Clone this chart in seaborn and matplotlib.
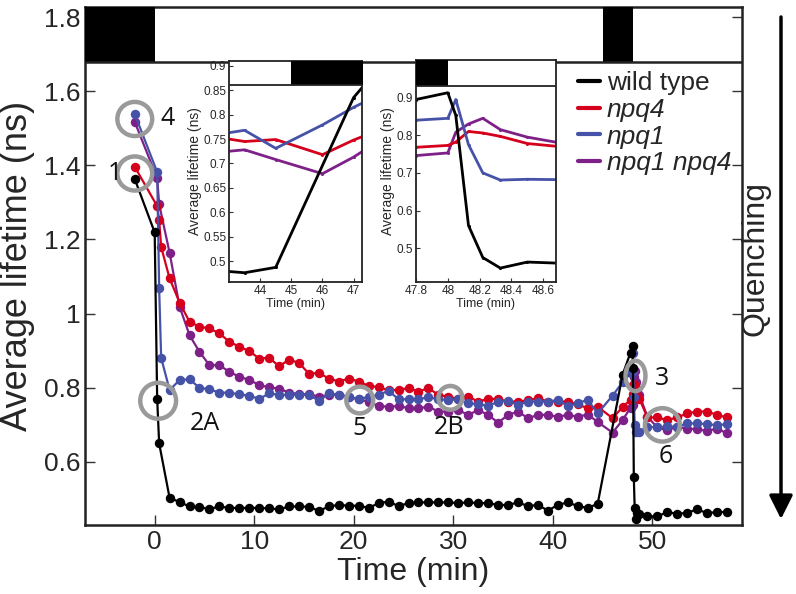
import numpy as np
import pandas as pd
import matplotlib
matplotlib.use("Agg")
import matplotlib.pyplot as plt
from matplotlib.patches import Ellipse
from matplotlib.lines import Line2D
import seaborn as sns

# ---------------- data ----------------
t_early = [-2, 0, 0.25, 0.45, 0.65]
t_mid = [1.5 + i for i in range(44)]  # 1.5 ... 44.5
t_late = [46, 47, 47.8, 48.0, 48.05, 48.13, 48.22, 48.33, 48.5, 48.7,
          49.5, 50.5, 51.5, 52.5, 53.5, 54.5, 55.5, 56.5, 57.5]
time = t_early + t_mid + t_late

nan = np.nan
wild_type = [1.363, 1.219, 0.77, 0.65, nan,
             0.503, 0.492, 0.480, 0.478, 0.473, 0.480, 0.476, 0.476, 0.476, 0.476,
             0.475, 0.472, 0.480, 0.480, 0.479, 0.468, 0.480, 0.484, 0.482, 0.482,
             0.476, 0.489, 0.493, 0.481, 0.489, 0.491, 0.491, 0.491, 0.491, 0.489,
             0.491, 0.489, 0.489, 0.484, 0.484, 0.491, 0.481, 0.484, 0.469, 0.484,
             0.491, 0.481, 0.476, 0.487,
             nan, 0.835, 0.895, 0.913, 0.853, 0.56, 0.475, 0.447, 0.463, 0.46,
             0.453, 0.453, 0.465, 0.46, 0.463, 0.472, 0.462, 0.465, 0.465]
npq4 = [1.396, nan, 1.29, 1.252, 1.18,
        1.095, 1.030, 0.978, 0.965, 0.960, 0.947, 0.924, 0.911, 0.899, 0.879,
        0.881, 0.858, 0.876, 0.867, 0.838, 0.840, 0.825, 0.817, 0.825, 0.817,
        0.805, 0.802, 0.793, 0.795, 0.799, 0.790, 0.799, 0.781, 0.776, 0.770,
        0.776, 0.763, 0.770, 0.770, 0.763, 0.763, 0.766, 0.772, 0.763, 0.763,
        0.763, 0.755, 0.745, 0.749,
        0.718, 0.748, 0.768, 0.773, 0.782, 0.81, 0.806, 0.797, 0.778, 0.77,
        0.72, 0.72, 0.713, 0.72, 0.731, 0.736, 0.736, 0.727, 0.72]
npq1 = [1.538, nan, 1.382, 1.068, 0.881,
        0.794, 0.821, 0.823, 0.800, 0.796, 0.787, 0.787, 0.782, 0.779, 0.770,
        0.785, 0.781, 0.781, 0.781, 0.781, 0.765, 0.785, 0.781, 0.776, 0.769,
        0.776, 0.781, 0.792, 0.769, 0.769, 0.769, 0.775, 0.769, 0.767, 0.769,
        0.758, 0.756, 0.751, 0.763, 0.765, 0.754, 0.763, 0.763, 0.763, 0.767,
        0.751, 0.758, 0.768, 0.731,
        0.779, 0.815, 0.84, 0.845, 0.895, 0.775, 0.70, 0.681, 0.683, 0.682,
        0.695, 0.693, 0.696, 0.695, 0.704, 0.704, 0.702, 0.699, 0.702]
npq1_npq4 = [1.517, nan, 1.365, 1.295, nan,
             1.164, 1.019, 0.942, 0.897, 0.861, 0.861, 0.843, 0.830, 0.821, 0.808,
             0.801, 0.798, 0.787, 0.783, 0.783, 0.776, 0.781, 0.781, 0.776, 0.769,
             0.762, 0.751, 0.749, 0.751, 0.745, 0.745, 0.749, 0.736, 0.736, 0.740,
             0.727, 0.740, 0.727, 0.706, 0.727, 0.736, 0.718, 0.727, 0.727, 0.722,
             0.727, 0.722, 0.728, 0.708,
             0.679, 0.713, 0.746, 0.753, 0.808, 0.83, 0.845, 0.815, 0.795, 0.78,
             0.722, 0.693, 0.686, 0.695, 0.69, 0.688, 0.684, 0.69, 0.677]

strains = ["wild type", "npq4", "npq1", "npq1 npq4"]
colors = {"wild type": "#000000", "npq4": "#d5001c",
          "npq1": "#4652a8", "npq1 npq4": "#7d2189"}
draw_order = ["npq1 npq4", "npq4", "npq1", "wild type"]

# dark periods (black bars)
dark_start = [-7, 45]
dark_end = [0, 48]

# annotated circles: label, x, y, size, label position
circ_labels = ["4", "1", "2A", "5", "2B", "3", "6"]
circ_x = [-2.0, -2.0, 0.35, 20.6, 29.7, 48.3, 51.0]
circ_y = [1.525, 1.378, 0.765, 0.767, 0.773, 0.832, 0.70]
circ_w = [3.5, 3.5, 3.6, 2.7, 2.4, 2.0, 3.5]
circ_h = [0.092, 0.092, 0.097, 0.072, 0.064, 0.082, 0.09]
lab_x = [1.3, -4.0, 5.0, 20.6, 29.6, 51.0, 51.3]
lab_y = [1.525, 1.378, 0.705, 0.690, 0.692, 0.826, 0.615]

df = pd.DataFrame({"time": np.tile(time, 4),
                   "strain": np.repeat(strains, len(time)),
                   "lifetime": np.concatenate([wild_type, npq4, npq1, npq1_npq4])})
df = df.dropna()

# ---------------- style ----------------
sns.set_theme(style="white")
plt.rcParams["font.family"] = ["Liberation Sans", "DejaVu Sans"]

fig = plt.figure(figsize=(7.96, 5.94), dpi=100)
ax = fig.add_axes([85/796, 1-525/594, 657/796, 518/594])

for s in draw_order:
    sub = df[df.strain == s]
    sns.lineplot(data=sub, x="time", y="lifetime", color=colors[s], ax=ax,
                 estimator=None, sort=True, marker="o", markersize=6.8,
                 markeredgewidth=0, linewidth=1.6, legend=False)

ax.set_xlim(-7, 59)
ax.set_ylim(0.43, 1.827)
ax.set_xticks([0, 10, 20, 30, 40, 50])
ax.set_yticks([0.6, 0.8, 1.0, 1.2, 1.4, 1.6, 1.8])
ax.set_yticklabels(["0.6", "0.8", "1", "1.2", "1.4", "1.6", "1.8"])
ax.tick_params(axis="both", direction="in", length=7, width=1, labelsize=19,
               right=True, left=True, bottom=True, top=False, color="#333333")
ax.set_xlabel("Time (min)", fontsize=23, labelpad=2)
ax.set_ylabel("Average lifetime (ns)", fontsize=26, labelpad=6)
for sp in ax.spines.values():
    sp.set_linewidth(1.8)
    sp.set_color("#222222")

# top light/dark bar
for a, b in zip(dark_start, dark_end):
    ax.fill_between([a, b], 1.68, 1.83, color="black", lw=0, zorder=5)
ax.axhline(1.68, color="#222222", lw=1.8, zorder=6)

# circles
for lab, cx, cy, w, h, lx, ly in zip(circ_labels, circ_x, circ_y, circ_w, circ_h, lab_x, lab_y):
    ax.add_patch(Ellipse((cx, cy), w, h, fill=False, ec="#9a9a9a", lw=3.2, zorder=10))
    ax.text(lx, ly, lab, fontsize=18, family="Open Sans", ha="center", va="center",
            color="#111111", zorder=11)

# legend
handles = [Line2D([], [], color=colors[s], lw=3) for s in strains]
leg = ax.legend(handles, strains, loc="upper left", bbox_to_anchor=(0.75, 0.876),
                frameon=False, fontsize=19, handlelength=0.85, handletextpad=0.25,
                labelspacing=0.1, borderaxespad=0, borderpad=0)
for i, txt in enumerate(leg.get_texts()):
    if i > 0:
        txt.set_style("italic")

# Quenching arrow and text
fig.text(756/796, 1-258/594, "Quenching", rotation=90, fontsize=23,
         ha="center", va="center")
ax.annotate("", xy=(781/796, 1-519/594), xytext=(781/796, 1-17/594),
            xycoords="figure fraction", textcoords="figure fraction",
            arrowprops=dict(arrowstyle="-|>", lw=2.5, color="black",
                            mutation_scale=36, shrinkA=0, shrinkB=0))

# ---------------- insets ----------------
def make_inset(rect, xlim, ylim, bar_bottom, dark_a, dark_b, xticks, yticks, ytl):
    ia = fig.add_axes(rect)
    ia.set_facecolor("white")
    for s in draw_order:
        sub = df[df.strain == s]
        sns.lineplot(data=sub, x="time", y="lifetime", color=colors[s], ax=ia,
                     estimator=None, sort=True, marker="o", markersize=2.2,
                     markeredgewidth=0, linewidth=2.0, legend=False)
    ia.set_xlim(*xlim)
    ia.set_ylim(*ylim)
    ia.fill_between([dark_a, dark_b], bar_bottom, ylim[1] + 1, color="black", lw=0, zorder=5)
    ia.axhline(bar_bottom, color="#222222", lw=1.3, zorder=6)
    ia.set_xticks(xticks)
    ia.set_xticklabels([("%g" % v) for v in xticks])
    ia.set_yticks(yticks)
    ia.set_yticklabels(ytl)
    ia.tick_params(axis="both", direction="in", length=3, width=0.8, labelsize=8.5,
                   pad=2, left=True, bottom=True, color="#333333")
    ia.set_xlabel("Time (min)", fontsize=9, labelpad=1)
    ia.set_ylabel("Average lifetime (ns)", fontsize=10, labelpad=1)
    for sp in ia.spines.values():
        sp.set_linewidth(1.3)
        sp.set_color("#222222")
    return ia

make_inset([229/796, 1-282/594, 133/796, 221/594], (43.0, 47.27), (0.457, 0.91), 0.86,
           45, 48, [44, 45, 46, 47],
           [0.5, 0.55, 0.6, 0.65, 0.7, 0.75, 0.8, 0.85, 0.9],
           ["0.5", "0.55", "0.6", "0.65", "0.7", "0.75", "0.8", "0.85", "0.9"])
make_inset([416/796, 1-282/594, 140/796, 222/594], (47.8, 48.68), (0.41, 1.0), 0.93,
           47.0, 48.0, [47.8, 48.0, 48.2, 48.4, 48.6],
           [0.5, 0.6, 0.7, 0.8, 0.9], ["0.5", "0.6", "0.7", "0.8", "0.9"])

fig.savefig("out.png", dpi=100)
